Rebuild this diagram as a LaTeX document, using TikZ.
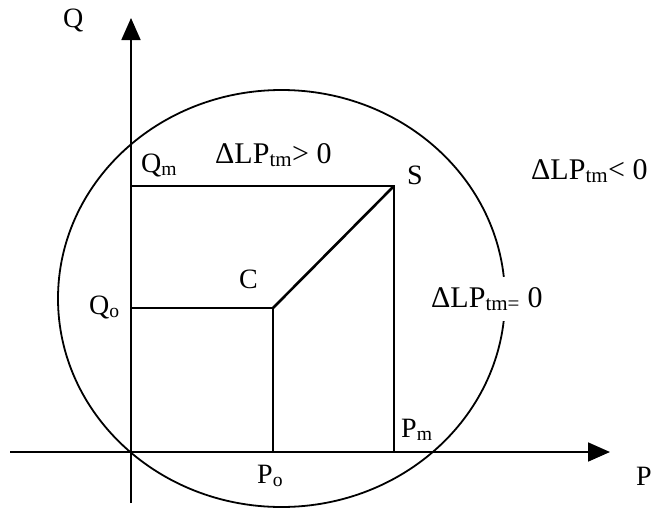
\documentclass[tikz,border=0pt]{standalone}
\usepackage{fontspec}
\setmainfont{Liberation Serif}
\usetikzlibrary{arrows.meta}
\begin{document}
\begin{tikzpicture}[x=1pt,y=-1pt,
  ln/.style={line width=1.8pt},
  thick ln/.style={line width=2.6pt},
  axis/.style={line width=1.8pt,-{Triangle[length=22pt,width=19pt]}},
  ptlabel/.style={anchor=base west,inner sep=0pt,font=\fontsize{28}{30}\selectfont},
  dlabel/.style={anchor=base west,inner sep=0pt,font=\fontsize{30}{34}\selectfont}]
\useasboundingbox (0,0) rectangle (653,509);
% key points
\coordinate (Pstart) at (10,452);
\coordinate (Pend) at (610,452);
\coordinate (Qbot) at (131,503);
\coordinate (Qtop) at (131,18);
\coordinate (Qm) at (131,186);
\coordinate (S) at (394,186);
\coordinate (Qo) at (131,308);
\coordinate (C) at (273,308);
\coordinate (Po) at (273,452);
\coordinate (Pm) at (394,452);
\coordinate (E) at (281.5,298.5);
% ellipse
\draw[ln] (E) ellipse [x radius=223.5, y radius=208.5];
% axes
\draw[axis] (Pstart) -- (Pend);
\draw[axis] (Qbot) -- (Qtop);
% lines
\draw[ln] (Qm) -- (S) -- (Pm);
\draw[ln] (Qo) -- (C) -- (Po);
\draw[thick ln] (C) -- (S);
% labels
\node[ptlabel] (lQ) at (63,27) {Q};
\node[ptlabel] (lP) at (636,485) {P};
\node[ptlabel] (lQm) at (141,172) {Q\textsubscript{m}};
\node[ptlabel] (lQo) at (89,314) {Q\textsubscript{o}};
\node[ptlabel] (lC) at (239,288) {C};
\node[ptlabel] (lS) at (407,184) {S};
\node[ptlabel] (lPo) at (257,483) {P\textsubscript{o}};
\node[ptlabel] (lPm) at (401,437) {P\textsubscript{m}};
\node[dlabel] (dpos) at (215,163) {ΔLP\textsubscript{tm}> 0};
\node[dlabel] (dneg) at (531,179) {ΔLP\textsubscript{tm}< 0};
\node[dlabel,fill=white,inner ysep=10pt] (dzero) at (431,307) {ΔLP\textsubscript{tm=} 0};
\end{tikzpicture}
\end{document}
